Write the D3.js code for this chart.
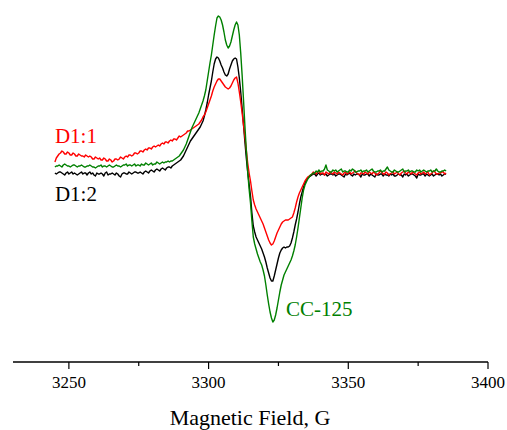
<!DOCTYPE html>
<html>
<head>
<meta charset="utf-8">
<script src="https://cdn.jsdelivr.net/npm/d3@7"></script>
<style>
  body { margin: 0; background: #fff; }
</style>
</head>
<body>
<div id="chart"></div>
<script>
// sweep: first field point and step, in gauss
var fieldStart = 3245;
var fieldStep = 0.5;

// intensities, arbitrary units, one value per field step (3245 ... 3385 G)
var d11 = [
  11, 15, 17, 19, 20, 22, 21, 19, 19, 21, 20, 18, 18, 20, 19, 17, 17, 19, 18, 17,
  17, 16, 18, 17, 16, 17, 16, 14, 14, 16, 15, 14, 15, 13, 13, 15, 14, 12, 12, 14,
  13, 11, 12, 14, 14, 13, 14, 16, 15, 14, 16, 17, 16, 18, 18, 17, 18, 20, 20, 19,
  20, 22, 22, 21, 23, 24, 23, 25, 25, 24, 26, 27, 26, 27, 28, 27, 29, 30, 29, 31,
  31, 30, 32, 33, 32, 34, 34, 33, 35, 37, 36, 37, 38, 39, 40, 42, 42, 43, 44, 45,
  46, 47, 48, 49, 51, 53, 56, 58, 61, 65, 69, 73, 77, 82, 86, 89, 92, 94, 94, 92,
  90, 88, 86, 85, 84, 85, 87, 90, 93, 95, 96, 90, 81, 71, 60, 48, 36, 23, 10, 0,
  -8, -18, -27, -32, -36, -39, -42, -45, -48, -51, -55, -59, -63, -67, -70, -72, -71, -68, -64, -60,
  -57, -54, -51, -49, -48, -47, -47, -47, -46, -45, -44, -40, -35, -29, -24, -20, -17, -14, -11, -8,
  -6, -4, -3, -2, -1, 1, 0, -1, 1, 2, -1, 0, 0, -2, 1, 0, -1, 1, 0, -1,
  1, 0, -1, 1, 0, -1, -2, 0, 1, -1, 0, 1, -1, 0, 1, 2, 0, -1, -2, 0,
  0, -1, 1, 0, -1, 1, 0, -1, 1, 0, -2, -1, 0, 2, 1, -1, -1, 1, 0, -2,
  -1, 0, 1, -1, 0, 1, -1, -2, 0, 1, 2, 0, -1, 1, 0, -1, 1, 0, -1, -2,
  0, 1, -1, 0, 1, -1, 0, 1, -2, -1, 0, 2, 1, -1, -1, 0, 0, 1, 1, -1,
  0
];
var d12 = [
  0, -1, 0, 1, 1, 0, -1, -2, 0, 1, -1, 0, 1, -1, 0, -1, -2, -1, 0, 1,
  -1, 0, 0, -2, 0, 1, -1, 0, -2, -3, 0, -1, -1, 0, -1, -3, 0, 1, -2, -1,
  -1, 0, -1, -2, 0, -1, -3, -4, -1, 0, 0, -1, -1, 1, 0, -1, 0, 1, 1, 0,
  0, 1, 0, -1, 1, 2, 1, 0, 2, 3, 2, 1, 3, 4, 3, 2, 4, 5, 4, 3,
  5, 6, 6, 5, 7, 8, 9, 10, 11, 12, 13, 15, 17, 20, 23, 26, 29, 32, 34, 36,
  38, 40, 42, 44, 46, 49, 52, 57, 63, 70, 78, 85, 92, 101, 109, 114, 116, 115, 112, 108,
  105, 101, 98, 97, 99, 104, 108, 112, 114, 115, 114, 106, 95, 81, 65, 48, 31, 15, 1, -11,
  -23, -40, -53, -59, -64, -67, -70, -73, -76, -80, -84, -89, -95, -100, -105, -108, -108, -103, -97, -91,
  -85, -80, -77, -75, -74, -75, -74, -74, -73, -70, -65, -59, -52, -46, -39, -31, -24, -19, -14, -10,
  -7, -5, -4, -3, -2, -1, -1, -3, -1, 0, -2, -1, -1, -2, -1, -3, -2, -1, -1, -2,
  -1, -3, -2, -1, -1, -2, -3, -4, -1, -2, -1, 0, -2, -3, -1, -2, -1, -1, -2, -4,
  -1, -2, -2, -1, -1, -3, -1, -2, -3, -4, -1, -2, -2, -1, -1, -3, -1, -2, -2, -3,
  -1, -2, -1, -3, -3, -2, -1, -2, -2, -4, -1, -2, -1, -3, -2, -1, -1, -2, -3, -5,
  -1, -2, -2, -1, -1, -3, -1, -2, -3, -2, -1, -3, -2, -1, -1, -2, -1, -3, -2, -1,
  -1
];
var cc125 = [
  6, 7, 7, 8, 7, 6, 8, 9, 8, 7, 7, 6, 7, 8, 8, 7, 6, 7, 7, 8,
  7, 6, 6, 7, 7, 8, 7, 6, 6, 5, 6, 7, 7, 8, 6, 7, 7, 6, 7, 8,
  7, 6, 6, 7, 8, 7, 7, 6, 7, 8, 8, 9, 7, 8, 8, 7, 8, 9, 7, 8,
  8, 7, 9, 8, 8, 10, 9, 8, 9, 10, 8, 9, 9, 11, 10, 9, 10, 11, 10, 11,
  11, 12, 11, 12, 12, 13, 14, 15, 16, 17, 19, 21, 23, 26, 29, 33, 37, 41, 45, 48,
  51, 54, 57, 60, 64, 68, 72, 77, 83, 92, 101, 110, 118, 128, 138, 147, 155, 157, 156, 153,
  148, 141, 133, 128, 125, 127, 131, 137, 143, 148, 151, 148, 138, 120, 98, 73, 47, 23, 1, -16,
  -30, -48, -64, -71, -76, -81, -85, -89, -92, -97, -103, -112, -122, -131, -139, -145, -149, -147, -142, -135,
  -127, -119, -112, -107, -102, -99, -96, -93, -90, -87, -83, -78, -72, -64, -55, -45, -35, -25, -17, -12,
  -9, -6, -4, -2, -1, 0, 0, 2, 1, 3, 1, 2, 2, 4, 8, 3, 2, 1, 1, 3,
  2, 3, 1, 2, 3, 4, 1, 2, 2, 1, 1, 3, 2, 4, 3, 1, 1, 2, 2, 3,
  1, 2, 2, 3, 1, 2, 3, 4, 2, 1, 1, 2, 2, 3, 1, 2, 2, 4, 6, 3,
  2, 1, 1, 3, 2, 1, 1, 2, 3, 4, 1, 2, 2, 3, 1, 2, 2, 1, 1, 3,
  2, 3, 1, 2, 3, 2, 1, 2, 2, 3, 1, 2, 2, 4, 2, 1, 1, 2, 2, 3,
  2
];

var majorTicks = [3250, 3300, 3350, 3400];
var minorTicks = [3275, 3325, 3375];

var series = [
  { name: 'D1:2', values: d12, color: '#000000', label: [3245, -28] },
  { name: 'D1:1', values: d11, color: '#ff0000', label: [3245, 30] },
  { name: 'CC-125', values: cc125, color: '#008000', label: [3327.7, -143] }
];

var serif = '"Liberation Serif", "Times New Roman", serif';
var width = 507, height = 430;
var svg = d3.select('#chart').append('svg')
  .attr('width', width)
  .attr('height', height);

var x = d3.scaleLinear().domain([3230, 3400]).range([13, 488]);
var y = d3.scaleLinear().domain([-189, 173]).range([362, 0]);

var line = d3.line()
  .x(function(d, i) { return x(fieldStart + i * fieldStep); })
  .y(function(d) { return y(d); });

svg.selectAll('path.trace')
  .data(series)
  .enter().append('path')
  .attr('class', 'trace')
  .attr('fill', 'none')
  .attr('stroke', function(s) { return s.color; })
  .attr('stroke-width', 1.4)
  .attr('stroke-linejoin', 'round')
  .attr('d', function(s) { return line(s.values); });

svg.selectAll('text.series-label')
  .data(series)
  .enter().append('text')
  .attr('class', 'series-label')
  .attr('x', function(s) { return x(s.label[0]); })
  .attr('y', function(s) { return y(s.label[1]); })
  .attr('fill', function(s) { return s.color; })
  .attr('font-family', serif)
  .attr('font-size', 21)
  .text(function(s) { return s.name; });

// bottom axis
var axisY = y(-189);
var axis = svg.append('g')
  .attr('transform', 'translate(0,' + axisY + ')');
axis.append('line')
  .attr('x1', x(3230)).attr('x2', x(3400))
  .attr('y1', 0).attr('y2', 0)
  .attr('stroke', '#000').attr('stroke-width', 1.3);
axis.selectAll('line.major')
  .data(majorTicks)
  .enter().append('line')
  .attr('class', 'major')
  .attr('x1', x).attr('x2', x)
  .attr('y1', 0).attr('y2', 7)
  .attr('stroke', '#000').attr('stroke-width', 1.2);
axis.selectAll('line.minor')
  .data(minorTicks)
  .enter().append('line')
  .attr('class', 'minor')
  .attr('x1', x).attr('x2', x)
  .attr('y1', 0).attr('y2', 4)
  .attr('stroke', '#000').attr('stroke-width', 1.2);
axis.selectAll('text.tick-label')
  .data(majorTicks)
  .enter().append('text')
  .attr('class', 'tick-label')
  .attr('x', x)
  .attr('y', 26)
  .attr('text-anchor', 'middle')
  .attr('font-family', serif)
  .attr('font-size', 17)
  .text(function(d) { return d; });

svg.append('text')
  .attr('x', 250)
  .attr('y', 425)
  .attr('text-anchor', 'middle')
  .attr('font-family', serif)
  .attr('font-size', 22)
  .text('Magnetic Field, G');
</script>
</body>
</html>
